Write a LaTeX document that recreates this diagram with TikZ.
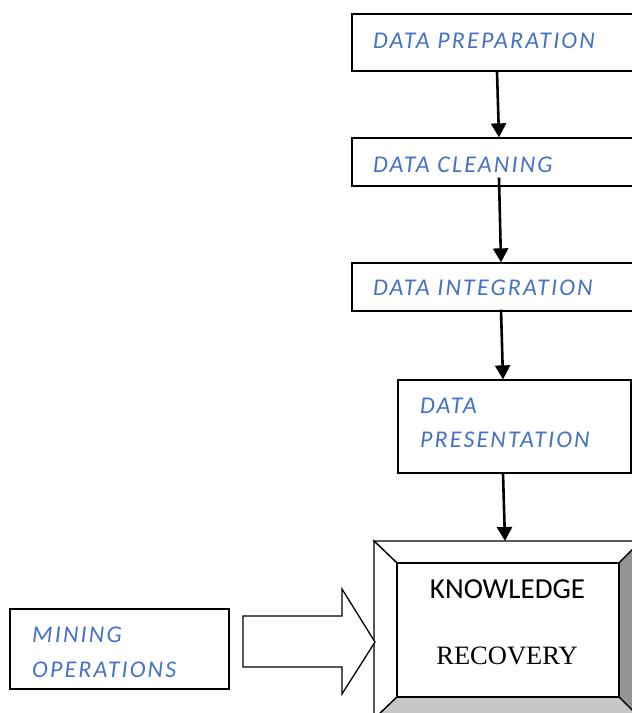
\documentclass[tikz,border=0pt]{standalone}
\usepackage{fontspec}
\usetikzlibrary{arrows.meta,calc}
\newfontfamily\calib[LetterSpace=9]{Carlito}
\newfontfamily\calibplain{Carlito}
\newfontfamily\timesf{Liberation Serif}
\definecolor{lblue}{HTML}{4472C4}
\begin{document}
\begin{tikzpicture}[x=1pt,y=-1pt,
  box/.style={draw=black,line width=1.3pt,fill=white,inner sep=0pt},
  lbl/.style={anchor=base west,inner sep=0pt,text=lblue,font=\calib\itshape\fontsize{24}{28}\selectfont},
  flow/.style={line width=2.6pt,-{Triangle[length=14pt,width=15pt]}}]
\useasboundingbox (0,0) rectangle (632,713);
% boxes
\node[box,minimum width=293pt,minimum height=57pt] (prep) at (498.5,42.5) {};
\node[box,minimum width=293pt,minimum height=48pt] (clean) at (498.5,162) {};
\node[box,minimum width=293pt,minimum height=48pt] (integ) at (498.5,287) {};
\node[box,minimum width=233pt,minimum height=93pt] (pres) at (514.5,426.5) {};
\node[box,minimum width=219pt,minimum height=80pt] (mine) at (119.5,649) {};
% labels
\node[lbl] (lprep) at (373,48) {DATA PREPARATION};
\node[lbl] (lclean) at (373,172) {DATA CLEANING};
\node[lbl] (linteg) at (373,295) {DATA INTEGRATION};
\node[lbl] (lpres1) at (420,413) {DATA};
\node[lbl] (lpres2) at (420,447) {PRESENTATION};
\node[lbl] (lmine1) at (32,642) {MINING};
\node[lbl] (lmine2) at (32,677) {OPERATIONS};
% bevel box
\coordinate (o1) at (374,541); \coordinate (o2) at (641,541);
\coordinate (o3) at (641,719); \coordinate (o4) at (374,719);
\coordinate (i1) at (397,563); \coordinate (i2) at (619,563);
\coordinate (i3) at (619,697); \coordinate (i4) at (397,697);
\begin{scope}[line width=1.3pt,line join=miter]
\filldraw[fill=white] (o1) -- (o2) -- (i2) -- (i1) -- cycle;
\filldraw[fill=white] (o1) -- (i1) -- (i4) -- (o4) -- cycle;
\filldraw[fill=black!42] (o2) -- (o3) -- (i3) -- (i2) -- cycle;
\filldraw[fill=black!22] (o4) -- (i4) -- (i3) -- (o3) -- cycle;
\end{scope}
\node[draw=black,line width=1.3pt,fill=white,inner sep=0pt,minimum width=222pt,minimum height=134pt] (know) at (508,630) {};
\node[anchor=base,inner sep=0pt,font=\calibplain\fontsize{29}{33}\selectfont] (lknow) at (507.5,598) {KNOWLEDGE};
\node[anchor=base,inner sep=0pt,font=\timesf\fontsize{26.5}{30}\selectfont] (lrec) at (507,664) {RECOVERY};
\coordinate (kb) at (505,541);
% flow arrows
\draw[flow] ([xshift=-1.5pt]prep.south) -- ([xshift=0.5pt]clean.north);
\draw[flow] ([xshift=0.5pt,yshift=9pt]clean.south) -- ([xshift=2.5pt]integ.north);
\draw[flow] ([xshift=2.5pt,yshift=2pt]integ.south) -- ([xshift=-11.5pt]pres.north);
\draw[flow] ([xshift=-11.5pt]pres.south) -- (kb);
% block arrow
\draw[line width=1.3pt,fill=white,line join=miter] (243,616) -- (342,616) -- (342,589) -- (375,642) -- (342,694) -- (342,667) -- (243,667) -- cycle;
\end{tikzpicture}
\end{document}
